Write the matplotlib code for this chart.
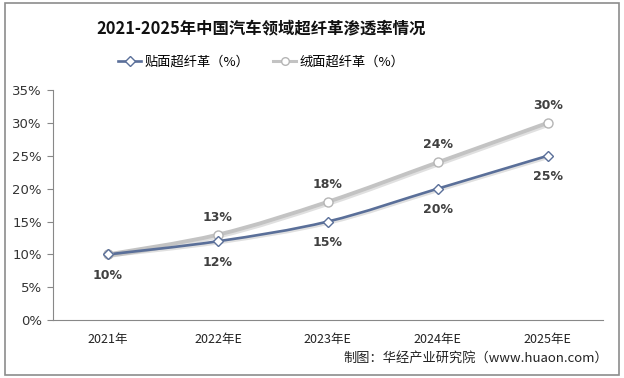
import matplotlib.pyplot as plt
import numpy as np
from matplotlib.path import Path
from matplotlib.patches import PathPatch, Rectangle
import matplotlib.patheffects as pe

plt.rcParams['font.family'] = ['Noto Sans CJK SC', 'DejaVu Sans']

# Data
years = ['2021年', '2022年E', '2023年E', '2024年E', '2025年E']
tie_mian = [10, 12, 15, 20, 25]     # 贴面超纤革（%）
rong_mian = [10, 13, 18, 24, 30]    # 绒面超纤革（%）
y_ticks = [0, 5, 10, 15, 20, 25, 30, 35]

fig = plt.figure(figsize=(6.24, 3.78), dpi=100)
ax = fig.add_axes([0.085, 0.153, 0.881, 0.609])

# outer frame
fig.patches.append(Rectangle((0.008, 0.008), 0.984, 0.984, transform=fig.transFigure,
                             fill=False, edgecolor='#8c8c8c', linewidth=1.2))


def smooth_path(xs, ys, t=0.17):
    # Bezier control points through the data points (Catmull-Rom style)
    xs = np.asarray(xs, float)
    ys = np.asarray(ys, float)
    n = len(xs)
    verts = [(xs[0], ys[0])]
    codes = [Path.MOVETO]
    for i in range(n - 1):
        p0 = i - 1 if i > 0 else i
        p3 = i + 2 if i + 2 < n else i + 1
        c1 = (xs[i] + (xs[i + 1] - xs[p0]) * t, ys[i] + (ys[i + 1] - ys[p0]) * t)
        c2 = (xs[i + 1] - (xs[p3] - xs[i]) * t, ys[i + 1] - (ys[p3] - ys[i]) * t)
        verts += [c1, c2, (xs[i + 1], ys[i + 1])]
        codes += [Path.CURVE4] * 3
    return Path(verts, codes)


x = np.arange(len(years))
shadow = [pe.SimpleLineShadow(offset=(1.2, -1.2), alpha=0.12), pe.Normal()]

gray_patch = PathPatch(smooth_path(x, rong_mian), fill=False, edgecolor='#c3c3c3',
                       linewidth=2.8, capstyle='round', path_effects=shadow, zorder=2)
blue_patch = PathPatch(smooth_path(x, tie_mian), fill=False, edgecolor='#5a6f99',
                       linewidth=1.9, capstyle='round', path_effects=shadow, zorder=3)
ax.add_patch(gray_patch)
ax.add_patch(blue_patch)

ax.plot(x, rong_mian, linestyle='none', marker='o', markersize=6.5,
        markerfacecolor='white', markeredgecolor='#b5b5b5', markeredgewidth=1.0, zorder=4)
ax.plot(x, tie_mian, linestyle='none', marker='D', markersize=5.5,
        markerfacecolor='white', markeredgecolor='#5a6f99', markeredgewidth=1.0, zorder=5)

# legend proxies
ax.plot([], [], color='#5a6f99', linewidth=1.9, marker='D', markersize=5,
        markerfacecolor='white', markeredgecolor='#5a6f99', label='贴面超纤革（%）')
ax.plot([], [], color='#c3c3c3', linewidth=2.2, marker='o', markersize=5.5,
        markerfacecolor='white', markeredgecolor='#b5b5b5', label='绒面超纤革（%）')

# data labels
for i in range(len(years)):
    ax.annotate(f'{tie_mian[i]}%', (x[i], tie_mian[i]), xytext=(0, -15),
                textcoords='offset points', ha='center', va='center',
                fontsize=9, fontweight='bold', color='#404040', family='DejaVu Sans')
    if i > 0:
        ax.annotate(f'{rong_mian[i]}%', (x[i], rong_mian[i]), xytext=(0, 12.5),
                    textcoords='offset points', ha='center', va='center',
                    fontsize=9, fontweight='bold', color='#404040', family='DejaVu Sans')

ax.set_xlim(-0.5, len(years) - 0.5)
ax.set_ylim(0, 35)
ax.set_xticks(x)
ax.set_xticklabels(years, fontsize=9, color='#222222')
ax.set_yticks(y_ticks)
ax.set_yticklabels([f'{v}%' for v in y_ticks], fontsize=9.5, color='#333333',
                   family='DejaVu Sans')
ax.tick_params(axis='x', length=0, pad=9)
ax.tick_params(axis='y', length=4, direction='out', color='#888888', pad=4)
for side in ['top', 'right']:
    ax.spines[side].set_visible(False)
ax.spines['left'].set_color('#888888')
ax.spines['bottom'].set_color('#888888')

fig.text(0.418, 0.925, '2021-2025年中国汽车领域超纤革渗透率情况', ha='center', va='center',
         fontsize=11.8, fontweight='bold', color='#111111')
fig.legend(loc='center', bbox_to_anchor=(0.418, 0.835), ncol=2, frameon=False,
           fontsize=9.5, handlelength=1.8, columnspacing=1.8, handletextpad=0.2)

fig.text(0.975, 0.052, '制图：华经产业研究院（www.huaon.com）', ha='right', va='center',
         fontsize=9.5, color='#222222')

fig.savefig('out.png', dpi=100)
